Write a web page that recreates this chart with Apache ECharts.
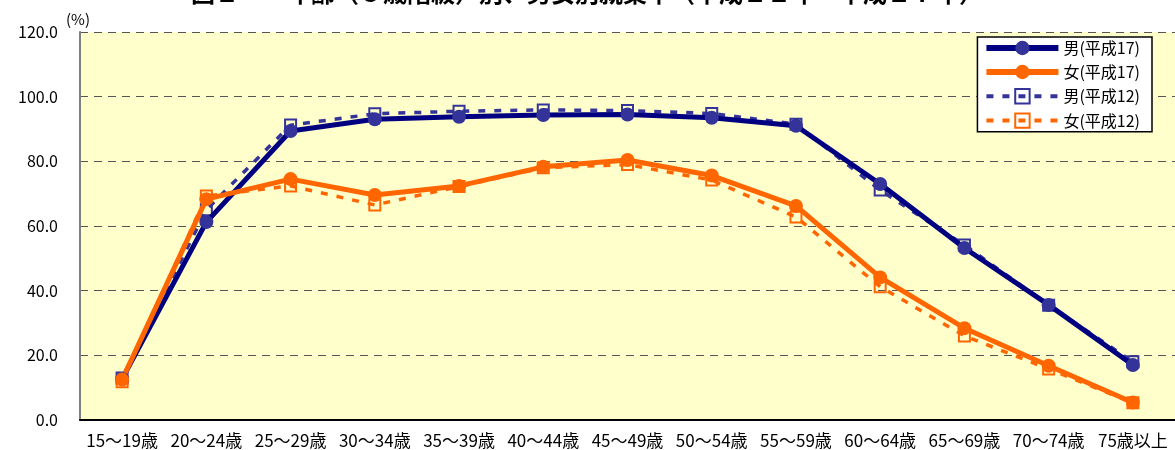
<!DOCTYPE html>
<html>
<head>
<meta charset="utf-8">
<script src="https://cdn.jsdelivr.net/npm/echarts@6/dist/echarts.min.js"></script>
<style>
  html, body { margin: 0; padding: 0; background: #ffffff; }
  #chart { width: 1175px; height: 450px; }
</style>
</head>
<body>
<div id="chart"></div>
<script>
// 年齢階級（5歳階級）
const ageGroups = ['15～19歳', '20～24歳', '25～29歳', '30～34歳', '35～39歳', '40～44歳',
  '45～49歳', '50～54歳', '55～59歳', '60～64歳', '65～69歳', '70～74歳', '75歳以上'];

// 就業率（％）
const maleH17   = [12.7, 61.2, 89.4, 93.0, 93.8, 94.3, 94.5, 93.5, 91.0, 73.0, 53.2, 35.6, 17.0];
const femaleH17 = [12.5, 68.3, 74.5, 69.6, 72.4, 78.3, 80.4, 75.6, 66.2, 44.1, 28.4, 16.8, 5.4];
const maleH12   = [13.0, 65.0, 91.2, 94.7, 95.5, 95.9, 95.7, 94.8, 91.5, 71.1, 54.1, 35.5, 18.0];
const femaleH12 = [11.8, 69.3, 72.4, 66.5, 72.2, 78.0, 79.0, 74.2, 62.8, 41.2, 26.0, 15.8, 5.3];

const seriesNames = ['男(平成17)', '女(平成17)', '男(平成12)', '女(平成12)'];

const yTicks = { min: 0, max: 120, interval: 20 };

const FONT = '"Noto Sans CJK JP", "Noto Sans", sans-serif';

const NAVY = '#000080', INDIGO = '#333399', ORANGE = '#FF6600';

const chart = echarts.init(document.getElementById('chart'), null, { renderer: 'canvas' });

function solidSeries(name, data, lineColor, markerColor) {
  return {
    name, type: 'line', data,
    symbol: 'circle', symbolSize: 14,
    lineStyle: { color: lineColor, width: 5 },
    itemStyle: { color: markerColor, borderWidth: 0 },
    z: 4
  };
}

function dashedSeries(name, data, color) {
  return {
    name, type: 'line', data,
    symbol: 'rect', symbolSize: 11,
    lineStyle: { color, width: 3.5, type: [7, 9] },
    itemStyle: { color: 'rgba(255,255,204,0)', borderColor: color, borderWidth: 2 },
    z: 3
  };
}

chart.setOption({
  animation: false,
  textStyle: { fontFamily: FONT },
  title: {
    text: '図２　　年齢（５歳階級）別、男女別就業率（平成１２年・平成１７年）',
    left: 186, top: -24,
    textStyle: { fontFamily: FONT, fontSize: 24, fontWeight: 'bold', color: '#000' }
  },
  grid: { left: 80, top: 32, width: 1097, height: 388, containLabel: false,
          show: true, backgroundColor: '#FFFFCC', borderWidth: 0 },
  legend: {
    orient: 'vertical', right: 23, top: 37,
    backgroundColor: '#ffffff', borderColor: '#000000', borderWidth: 1.5,
    padding: [3, 12, 3, 6], itemGap: 8,
    itemWidth: 72, itemHeight: 18,
    textStyle: { fontFamily: FONT, fontSize: 16, color: '#000' },
    data: [
      { name: seriesNames[0], lineStyle: { width: 6 } },
      { name: seriesNames[1], lineStyle: { width: 6 } },
      { name: seriesNames[2], lineStyle: { width: 4 } },
      { name: seriesNames[3], lineStyle: { width: 4 } }
    ]
  },
  xAxis: {
    type: 'category', data: ageGroups, boundaryGap: true,
    axisLine: { lineStyle: { color: '#000', width: 2 } },
    axisTick: { inside: true, length: 5, lineStyle: { color: '#000' } },
    axisLabel: { fontFamily: FONT, fontSize: 17, color: '#000', margin: 12, interval: 0 }
  },
  yAxis: {
    type: 'value', min: yTicks.min, max: yTicks.max, interval: yTicks.interval,
    name: '(%)', nameLocation: 'end', nameGap: 5,
    nameTextStyle: { fontFamily: FONT, fontSize: 15, color: '#000', align: 'left', padding: [0, 0, 0, -14] },
    axisLine: { show: true, lineStyle: { color: '#808080', width: 2 } },
    axisTick: { show: false },
    axisLabel: { fontFamily: FONT, fontSize: 16, color: '#000', margin: 22,
                 formatter: v => v.toFixed(1) },
    splitLine: { show: true, lineStyle: { color: '#555555', width: 1.2, type: [8, 6] } }
  },
  series: [
    solidSeries(seriesNames[0], maleH17, NAVY, INDIGO),
    solidSeries(seriesNames[1], femaleH17, ORANGE, ORANGE),
    dashedSeries(seriesNames[2], maleH12, INDIGO),
    dashedSeries(seriesNames[3], femaleH12, ORANGE)
  ]
});
</script>
</body>
</html>
